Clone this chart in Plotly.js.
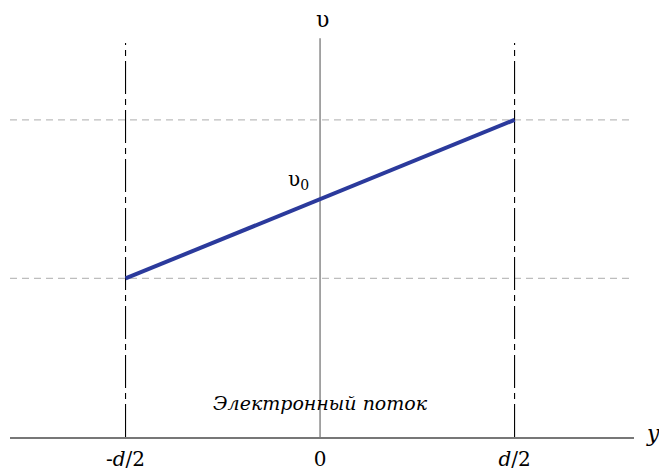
<!DOCTYPE html>
<html><head><meta charset="utf-8">
<script src="https://cdn.plot.ly/plotly-3.0.1.min.js"></script>
<style>html,body{margin:0;padding:0;background:#fff;}</style>
</head><body>
<div id="chart" style="width:659px;height:473px;"></div>
<script>
// Data
const edgeX = [-0.5, 0.5];          // -d/2 and d/2
const velocity = [2, 4];            // υ at -d/2 and d/2 (υ0 = 3 at 0)
const v0 = 3;
const tickVals = [-0.5, 0, 0.5];
const tickText = ['-<i>d</i>/2', '0', '<i>d</i>/2'];
const yTop = 5.03;
const yAxisTop = 4.97;
const xMin = -0.797, xMax = 0.807;
const flowLabel = 'Электронный поток';

const serif = 'DejaVu Serif';
const traces = [
  {x: [xMin, xMax], y: [velocity[1], velocity[1]], mode: 'lines',
   line: {color: '#bdbdbd', width: 1.2, dash: '7px,5px'}},
  {x: [xMin, xMax], y: [velocity[0], velocity[0]], mode: 'lines',
   line: {color: '#bdbdbd', width: 1.2, dash: '7px,5px'}},
  {x: [0, 0], y: [0, yTop], mode: 'lines', line: {color: '#777', width: 1.3}},
  {x: [edgeX[0], edgeX[0]], y: [0, yAxisTop], mode: 'lines',
   line: {color: '#000', width: 1.1, dash: '33px,5px,6px,5px'}},
  {x: [edgeX[1], edgeX[1]], y: [0, yAxisTop], mode: 'lines',
   line: {color: '#000', width: 1.1, dash: '33px,5px,6px,5px'}},
  {x: edgeX, y: velocity, mode: 'lines', line: {color: '#2b3a9c', width: 4}}
];

const layout = {
  width: 659, height: 473,
  margin: {l: 10, r: 25, t: 0, b: 36},
  paper_bgcolor: '#fff', plot_bgcolor: '#fff',
  showlegend: false,
  font: {family: serif, color: '#000'},
  xaxis: {range: [xMin, xMax], showgrid: false, zeroline: false,
          showline: true, linecolor: '#777', linewidth: 1.5,
          tickvals: tickVals, ticktext: tickText, ticks: '',
          ticklabelstandoff: 3,
          tickfont: {family: serif, size: 20, color: '#000'}},
  yaxis: {range: [0, 5.511], showgrid: false, zeroline: false,
          showline: false, showticklabels: false},
  annotations: [
    {x: 0, y: 5.511, xref: 'x', yref: 'y', text: 'υ', showarrow: false,
     xanchor: 'center', yanchor: 'top', xshift: 2, yshift: -5,
     font: {family: serif, size: 22, color: '#000'}},
    {x: 0, y: v0, xref: 'x', yref: 'y', text: 'υ<sub>0</sub>', showarrow: false,
     xanchor: 'right', yanchor: 'bottom', xshift: -9, yshift: 4,
     font: {family: serif, size: 20, color: '#000'}},
    {x: 0, y: 0.43, xref: 'x', yref: 'y', text: '<i>' + flowLabel + '</i>', showarrow: false,
     xanchor: 'center', yanchor: 'middle',
     font: {family: serif, size: 19, color: '#000'}},
    {x: 1, xref: 'paper', y: 0, yref: 'y', text: '<i>y</i>', showarrow: false,
     xanchor: 'left', yanchor: 'middle', xshift: 10, yshift: 4,
     font: {family: serif, size: 22, color: '#000'}}
  ]
};
Plotly.newPlot('chart', traces, layout, {displayModeBar: false, staticPlot: true});
</script>
</body></html>
